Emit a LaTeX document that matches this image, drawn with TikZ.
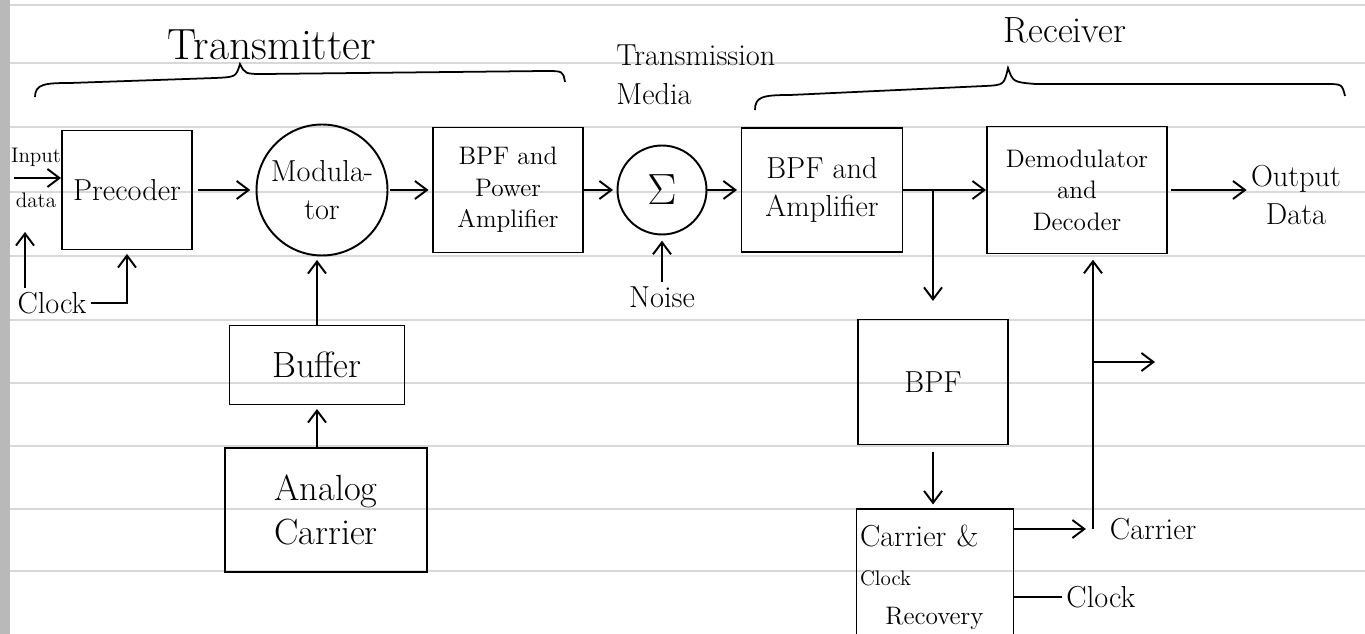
\documentclass[tikz,border=0pt]{standalone}
\usepackage{amsmath,amssymb}
\usepackage{tikz}
\usetikzlibrary{arrows.meta,calc,positioning}

\begin{document}
\begin{tikzpicture}[x=0.02cm, y=-0.02cm, >={Straight Barb[length=2.4mm,width=3.6mm]},
  line width=1.1pt,
  blockbox/.style={draw, align=center, font=\LARGE, inner sep=2pt},
  roundbox/.style={draw, circle, align=center, font=\LARGE, inner sep=1pt},
  lbl/.style={align=center, font=\LARGE, inner sep=2pt},
  ruled/.style={draw=gray!30, line width=0.7pt}]
  \useasboundingbox (0,0) rectangle (1365,634);
  \clip (0,0) rectangle (1365,634);

  % notebook page
  \foreach \yy in {5,63,127,192,256,320,383,446,509,571}
    \draw[ruled] (0,\yy) -- (1365,\yy);
  \fill[gray!55] (0,0) rectangle (10,634);

  % headings
  \node[lbl, font=\Huge] (tx) at (272,45) {Transmitter};
  \node[lbl, align=left, anchor=west] (tm) at (612,75) {Transmission\\Media};
  \node[lbl, font=\huge] (rx) at (1065,30) {Receiver};
  \draw[line width=1pt] (35,97) .. controls (35,84) and (45,83) .. (70,83) -- (215,78)
    .. controls (236,77) .. (240,64) .. controls (245,74) .. (265,74) -- (545,71)
    .. controls (563,71) .. (565,82);
  \draw[line width=1pt] (755,110) .. controls (755,97) and (762,95) .. (790,95) -- (985,86)
    .. controls (1004,85) .. (1008,68) .. controls (1013,82) .. (1035,84) -- (1325,84)
    .. controls (1342,84) .. (1345,96);

  % transmitter
  \node[blockbox, minimum width=2.6cm, minimum height=2.38cm] (pre) at (127,190) {Precoder};
  \node[roundbox, minimum size=2.62cm] (mod) at (322,190) {Modula-\\tor};
  \node[blockbox, font=\Large, minimum width=3cm, minimum height=2.5cm] (bpa) at (508,190) {BPF and\\Power\\Amplifier};
  \node[blockbox, font=\huge, minimum width=3.5cm, minimum height=1.58cm] (buf) at (317,365) {Buffer};
  \node[blockbox, font=\huge, minimum width=4.04cm, minimum height=2.48cm] (ana) at (326,510) {Analog\\Carrier};
  \node[lbl, font=\large, inner sep=1pt] (inp) at (36,178) {Input\\[2.2ex]data};
  \node[lbl] (clk) at (52,303) {Clock};
  \coordinate (inA) at (14,178);
  \coordinate (clkA) at (25,232);

  \draw[->] (inA) -- (inA -| pre.west);
  \draw[->] (clk.north -| clkA) -- (clkA);
  \draw[->, shorten >=2pt] (clk.east) -| (pre.south);
  \draw[->, shorten <=3pt, shorten >=3pt] (pre) -- (mod);
  \draw[->, shorten <=1pt, shorten >=2pt] (mod) -- (bpa);
  \draw[->, shorten >=2pt] (buf.north) -- (buf.north |- mod.south);
  \draw[->, shorten >=2pt] (ana.north -| buf.south) -- (buf.south);

  % transmission media
  \node[roundbox, font=\Huge, minimum size=1.78cm] (sum) at (662,190) {$\Sigma$};
  \node[lbl] (noise) at (662,297) {Noise};
  \draw[->, shorten >=2pt] (bpa) -- (sum);
  \draw[->, shorten >=3pt] (noise) -- (sum);

  % receiver
  \node[blockbox, minimum width=3.22cm, minimum height=2.48cm] (bam) at (822,190) {BPF and\\Amplifier};
  \node[blockbox, font=\Large, minimum width=3.6cm, minimum height=2.54cm] (dem) at (1077,190) {Demodulator\\and\\Decoder};
  \node[lbl] (out) at (1296,195) {Output\\Data};
  \node[blockbox, minimum width=3cm, minimum height=2.5cm] (bpf) at (933,382) {BPF};
  \node[blockbox, align=left, text width=3cm, minimum height=2.74cm, anchor=north] (ccr) at (935,508)
    {{\LARGE Carrier \&}\\{\large Clock}\\{\Large\quad Recovery}};
  \coordinate (crA) at (1093,529);
  \coordinate (brA) at (1093,362);
  \coordinate (brB) at (1155,362);

  \draw[->, shorten >=2pt] (sum) -- (bam);
  \draw[->] (bam.east) -- (dem.west);
  \draw[->, shorten >=10pt] (bam.east -| bpf.north) -- (bpf.north);
  \draw[->, shorten <=4pt, shorten >=2pt] (bpf.south) -- (bpf.south |- ccr.north);
  \draw[->, shorten >=4pt] (ccr.east |- crA) -- (crA);
  \draw[->, shorten >=3pt] (crA) -- (crA |- dem.south);
  \draw[->] (brA) -- (brB);
  \draw[->, shorten <=2pt] (dem.east) -- (dem.east -| out.west);
  \node[lbl, right=0.25cm of crA] (crl) {Carrier};
  \node[lbl, anchor=west] (ckl) at (1062,597) {Clock};
  \draw (ccr.east |- ckl) -- (ckl.west);
\end{tikzpicture}
\end{document}
